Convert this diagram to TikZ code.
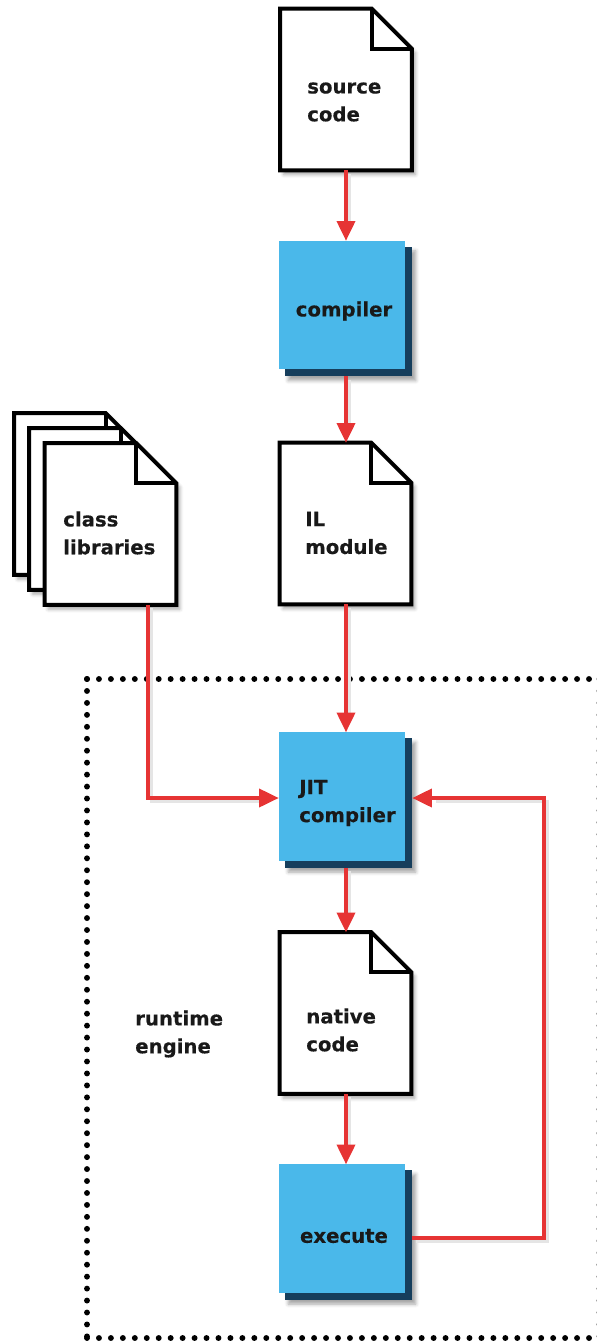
\documentclass[tikz,border=0pt]{standalone}
\usepackage{fontspec}
\setmainfont[FakeBold=0.3]{DejaVu Sans}
\usetikzlibrary{arrows.meta,shadows.blur,calc}
\definecolor{boxblue}{RGB}{74,184,234}
\definecolor{boxedge}{RGB}{22,62,92}
\definecolor{flowred}{RGB}{230,52,52}

% document outline with a folded top-right corner
\newcommand\docoutline[1]{%
  \draw[docline, blur shadow={shadow xshift=2.5pt, shadow yshift=-3pt, shadow blur radius=2.5pt, shadow opacity=35}]
    (#1.south west) -- (#1.north west) -- ([xshift=-1cm]#1.north east)
    -- ([yshift=-1cm]#1.north east) -- (#1.south east) -- cycle;
  \draw[docline, fill=none]
    ([xshift=-1cm]#1.north east) -- ([xshift=-1cm,yshift=-1cm]#1.north east)
    -- ([yshift=-1cm]#1.north east);
}
% blue process block with a dark bevel on the lower right
\newcommand\blockshape[1]{%
  \fill[boxedge, blur shadow={shadow xshift=2.5pt, shadow yshift=-3pt, shadow blur radius=2.5pt, shadow opacity=35}]
    ([shift={(0.15cm,-0.15cm)}]#1.north west) rectangle (#1.south east);
  \fill[boxblue] (#1.north west) rectangle ([shift={(-0.175cm,0.175cm)}]#1.south east);
}

\begin{document}
\begin{tikzpicture}[x=0.025cm,y=-0.025cm,
  lbl/.style={font=\fontsize{14}{19.8}\selectfont\bfseries, align=left, inner sep=0pt, text=black!90},
  docbox/.style={minimum width=3.275cm, minimum height=4.025cm, inner sep=0pt},
  blockbox/.style={minimum width=3.325cm, minimum height=3.375cm, inner sep=0pt},
  docline/.style={draw=black, line width=2.8pt, line join=miter, fill=white},
  flow/.style={draw=flowred, line width=2.2pt, -{Triangle[length=14pt,width=13pt]},
    preaction={draw=black!10, line width=2.5pt, shorten >=14pt,
      transform canvas={xshift=2.5pt,yshift=-2.5pt}, -}},
  dotframe/.style={draw=black, line width=4.2pt, line cap=round, dash pattern=on 0pt off 8.5pt}
]
\useasboundingbox (0,0) rectangle (597,1341);

% runtime engine frame
\draw[dotframe] (87,679) -- (600,679);
\draw[dotframe] (87,679) -- (87,1338);
\draw[dotframe] (87,1338) -- (600,1338);
\draw[dotframe] (599.5,679) -- (599.5,1338);

% shapes
\node[docbox] (src) at (346,89.5) {};
\node[blockbox] (comp) at (345.5,308.5) {};
\node[docbox] (il) at (345.5,523.5) {};
\node[docbox] (clsback) at (80,494) {};
\node[docbox] (clsmid) at (95,509) {};
\node[docbox] (cls) at (110.5,524) {};
\node[blockbox] (jit) at (345.5,800) {};
\node[docbox] (nat) at (345.5,1013) {};
\node[blockbox] (exe) at (345.5,1232) {};

\docoutline{src}
\blockshape{comp}
\docoutline{il}
\docoutline{clsback}
\docoutline{clsmid}
\docoutline{cls}
\blockshape{jit}
\docoutline{nat}
\blockshape{exe}

% labels
\node[lbl, anchor=west] (srct) at (307,102) {source\\code};
\node[lbl] (compt) at (344,311) {compiler};
\node[lbl, anchor=west] (ilt) at (305,533) {IL\\module};
\node[lbl, anchor=west] (clst) at (63,533) {class\\libraries};
\node[lbl, anchor=west] (jitt) at (299,803) {JIT\\compiler};
\node[lbl, anchor=west] (natt) at (306,1030) {native\\code};
\node[lbl] (exet) at (344,1236) {execute};
\node[lbl, anchor=west] (rte) at (135,1034) {runtime\\engine};

% connectors
\coordinate (clsturn) at (148,798);
\coordinate (loopA) at (544,1238);
\coordinate (loopB) at (544,798);

\draw[flow] (src.south -| 346,0) -- (comp.north -| 346,0);
\draw[flow] (comp.south -| 346,0) -- (il.north -| 346,0);
\draw[flow] (il.south -| 346,0) -- (jit.north -| 346,0);
\draw[flow] (cls.south -| clsturn) -- (clsturn) -- (jit.west |- clsturn);
\draw[flow] (jit.south -| 346,0) -- (nat.north -| 346,0);
\draw[flow] (nat.south -| 346,0) -- (exe.north -| 346,0);
\draw[flow] (exe.east |- loopA) -- (loopA) -- (loopB) -- (jit.east |- loopB);
\end{tikzpicture}
\end{document}
